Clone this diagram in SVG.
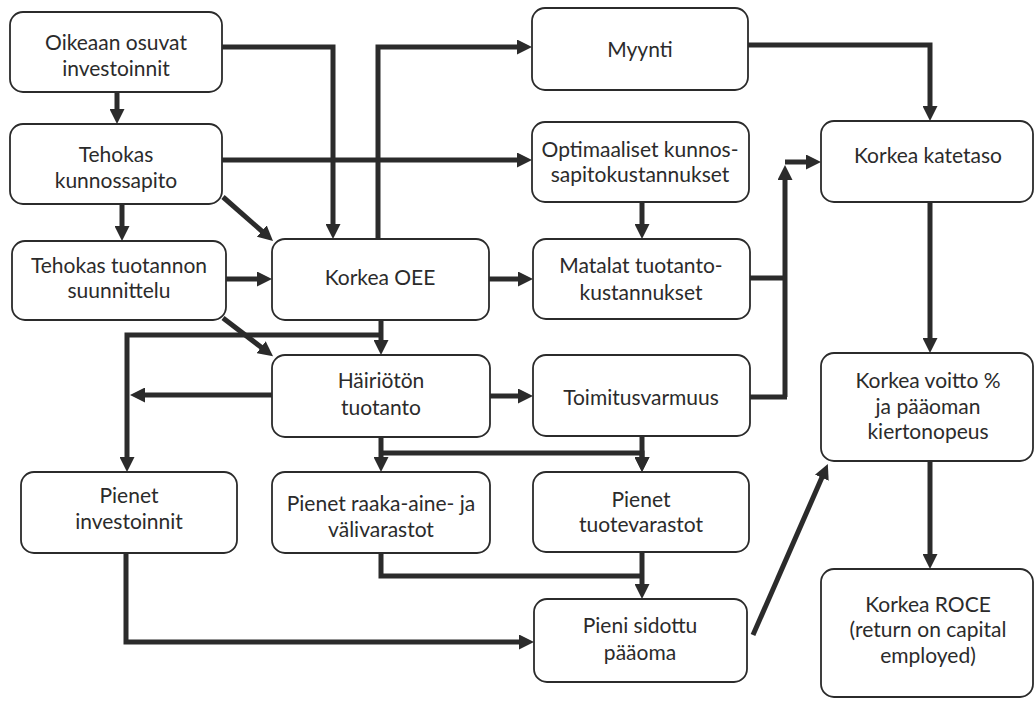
<svg xmlns="http://www.w3.org/2000/svg" width="1035" height="702" viewBox="0 0 1035 702">
<defs>
<marker id="ah" viewBox="0 0 15 15" refX="3" refY="7.5" markerWidth="15" markerHeight="15" markerUnits="userSpaceOnUse" orient="auto">
<path d="M0,0 L15,7.5 L0,15 z" fill="#2b2b2b"/>
</marker>
<style>
.box{fill:#ffffff;stroke:#2b2b2b;stroke-width:1.8}
.t{font-family:Lato,"Open Sans","Liberation Sans",sans-serif;font-size:21px;fill:#2b2b2b;text-anchor:middle}
.c{fill:none;stroke:#2b2b2b;stroke-width:5;stroke-linejoin:miter}
.a{marker-end:url(#ah)}
</style>
</defs>
<rect width="1035" height="702" fill="#ffffff"/>
<g id="connectors">
<path class="c a" d="M222,47 H333 V227"/>
<path class="c a" d="M117,92 V112"/>
<path class="c a" d="M222,160 H520"/>
<path class="c a" d="M122,204 V229"/>
<path class="c a" d="M223,197 L264,233"/>
<path class="c a" d="M378,239 V47 H520"/>
<path class="c a" d="M226,279 H260"/>
<path class="c a" d="M223,318 L263.5,349"/>
<path class="c a" d="M381,320 V343"/>
<path class="c a" d="M381,335 H127 V460"/>
<path class="c a" d="M489,279 H521"/>
<path class="c a" d="M642,202 V227"/>
<path class="c" d="M750,278 H785"/>
<path class="c a" d="M785,397 V177"/>
<path class="c a" d="M785,162 H809"/>
<path class="c" d="M750,397 H787"/>
<path class="c a" d="M490,396 H521"/>
<path class="c a" d="M272,395 H142"/>
<path class="c a" d="M381,437 V460"/>
<path class="c a" d="M381,453 H642 V460"/>
<path class="c a" d="M642,436 V460"/>
<path class="c" d="M381,553 V576 H642"/>
<path class="c a" d="M642,552 V587"/>
<path class="c a" d="M126,553 V642 H522"/>
<path class="c a" d="M753,635 L823,475"/>
<path class="c a" d="M748,45 H930 V109"/>
<path class="c a" d="M930,202 V341"/>
<path class="c a" d="M930,461 V557"/>
</g>
<g id="oikeaan"><rect class="box" x="10" y="12" width="212" height="80" rx="13"/><text class="t" x="116" y="50">Oikeaan osuvat</text><text class="t" x="116" y="76">investoinnit</text></g>
<g id="kunnossapito"><rect class="box" x="10" y="124" width="212" height="80" rx="13"/><text class="t" x="116" y="162">Tehokas</text><text class="t" x="116" y="188">kunnossapito</text></g>
<g id="suunnittelu"><rect class="box" x="12" y="241" width="214" height="79" rx="13"/><text class="t" x="119" y="273">Tehokas tuotannon</text><text class="t" x="119" y="298">suunnittelu</text></g>
<g id="oee"><rect class="box" x="272" y="239" width="217" height="81" rx="13"/><text class="t" x="380" y="285">Korkea OEE</text></g>
<g id="hairioton"><rect class="box" x="272" y="355" width="218" height="82" rx="13"/><text class="t" x="381" y="388">Häiriötön</text><text class="t" x="381" y="415">tuotanto</text></g>
<g id="pienet-investoinnit"><rect class="box" x="21" y="472" width="216" height="81" rx="13"/><text class="t" x="129" y="503">Pienet</text><text class="t" x="129" y="529">investoinnit</text></g>
<g id="raaka-aine"><rect class="box" x="272" y="472" width="218" height="81" rx="13"/><text class="t" x="381" y="511">Pienet raaka-aine- ja</text><text class="t" x="381" y="537">välivarastot</text></g>
<g id="myynti"><rect class="box" x="532" y="8" width="216" height="82" rx="13"/><text class="t" x="640" y="57">Myynti</text></g>
<g id="optimaaliset"><rect class="box" x="532" y="122" width="217" height="80" rx="13"/><text class="t" x="640" y="157">Optimaaliset kunnos-</text><text class="t" x="640" y="182">sapitokustannukset</text></g>
<g id="matalat"><rect class="box" x="533" y="239" width="217" height="80" rx="13"/><text class="t" x="641" y="273">Matalat tuotanto-</text><text class="t" x="641" y="300">kustannukset</text></g>
<g id="toimitusvarmuus"><rect class="box" x="533" y="355" width="217" height="81" rx="13"/><text class="t" x="641" y="405">Toimitusvarmuus</text></g>
<g id="tuotevarastot"><rect class="box" x="533" y="472" width="216" height="80" rx="13"/><text class="t" x="641" y="507">Pienet</text><text class="t" x="641" y="532">tuotevarastot</text></g>
<g id="sidottu"><rect class="box" x="534" y="599" width="213" height="83" rx="13"/><text class="t" x="640" y="633">Pieni sidottu</text><text class="t" x="640" y="660">pääoma</text></g>
<g id="katetaso"><rect class="box" x="821" y="121" width="212" height="81" rx="13"/><text class="t" x="928" y="163">Korkea katetaso</text></g>
<g id="voitto"><rect class="box" x="821" y="353" width="212" height="108" rx="13"/><text class="t" x="928" y="388">Korkea voitto %</text><text class="t" x="928" y="414">ja pääoman</text><text class="t" x="928" y="439">kiertonopeus</text></g>
<g id="roce"><rect class="box" x="821" y="569" width="212" height="128" rx="13"/><text class="t" x="928" y="612">Korkea ROCE</text><text class="t" x="928" y="637">(return on capital</text><text class="t" x="928" y="663">employed)</text></g>
</svg>
